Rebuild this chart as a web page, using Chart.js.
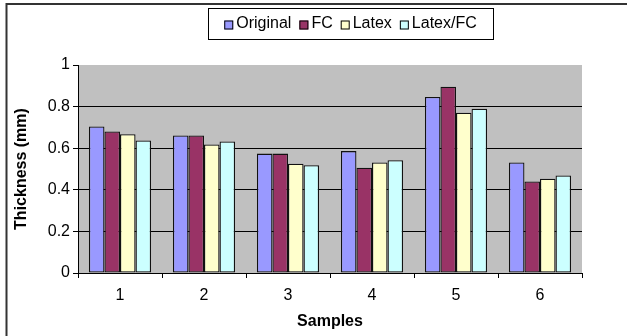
<!DOCTYPE html>
<html>
<head>
<meta charset="utf-8">
<script src="https://cdn.jsdelivr.net/npm/chart.js@4.4.1/dist/chart.umd.min.js"></script>
<style>
  html, body { margin: 0; padding: 0; background: #fff; }
  #wrap { width: 627px; height: 336px; position: relative; }
</style>
</head>
<body>
<div id="wrap"><canvas id="c" width="627" height="336"></canvas></div>
<script>
const categories = ['1', '2', '3', '4', '5', '6'];
const seriesNames = ['Original', 'FC', 'Latex', 'Latex/FC'];
const original = [0.704, 0.661, 0.574, 0.586, 0.846, 0.531];
const fc       = [0.680, 0.661, 0.574, 0.506, 0.896, 0.440];
const latex    = [0.667, 0.618, 0.525, 0.531, 0.771, 0.453];
const latexFc  = [0.637, 0.632, 0.518, 0.542, 0.790, 0.469];
const yTicks   = [0, 0.2, 0.4, 0.6, 0.8, 1];
const colors   = ['#9999FF', '#993366', '#FFFFCC', '#CCFFFF'];
const FONT = '"Liberation Sans", Arial, sans-serif';

const seriesValues = [original, fc, latex, latexFc];

const datasets = seriesNames.map((name, i) => ({
  label: name,
  data: seriesValues[i],
  backgroundColor: colors[i],
  borderColor: '#111',
  borderWidth: 1.3,
  borderSkipped: false,
  categoryPercentage: 0.74,
  barPercentage: 1.0
}));

const decorPlugin = {
  id: 'decor',
  beforeDraw(chart) {
    const { ctx, chartArea: a } = chart;
    ctx.save();
    ctx.fillStyle = '#fff';
    ctx.fillRect(0, 0, chart.width, chart.height);
    ctx.fillStyle = '#C0C0C0';
    ctx.fillRect(a.left, a.top, a.right - a.left, a.bottom - a.top);
    ctx.restore();
  },
  afterDraw(chart) {
    const { ctx } = chart;
    ctx.save();
    // outer frame (top + left)
    ctx.strokeStyle = '#333';
    ctx.lineWidth = 2;
    ctx.beginPath();
    ctx.moveTo(627, 4);
    ctx.lineTo(6.5, 4);
    ctx.lineTo(6.5, 336);
    ctx.stroke();

    // legend
    const fontSize = 16;
    ctx.font = fontSize + 'px ' + FONT;
    const sq = 9, gapSqText = 3, gapItem = 8;
    const ds = chart.data.datasets;
    const widths = ds.map(d => ctx.measureText(d.label).width);
    let total = 0;
    widths.forEach((w, i) => { total += sq + gapSqText + w + (i < ds.length - 1 ? gapItem : 0); });
    const boxL = 208, boxR = 493, boxT = 8, boxB = 39;
    const cy = (boxT + boxB) / 2;
    ctx.fillStyle = '#fff';
    ctx.fillRect(boxL, boxT, boxR - boxL, boxB - boxT);
    ctx.strokeStyle = '#000';
    ctx.lineWidth = 1;
    ctx.strokeRect(boxL + 0.5, boxT + 0.5, boxR - boxL, boxB - boxT);
    let x = (boxL + boxR) / 2 - total / 2;
    ds.forEach((d, i) => {
      ctx.fillStyle = d.backgroundColor;
      ctx.fillRect(x, cy - 3, sq, sq);
      ctx.strokeStyle = '#000';
      ctx.strokeRect(x + 0.5, cy - 2.5, sq - 1, sq - 1);
      x += sq + gapSqText;
      ctx.fillStyle = '#000';
      ctx.textBaseline = 'middle';
      ctx.textAlign = 'left';
      ctx.fillText(d.label, x, cy);
      x += widths[i] + gapItem;
    });
    ctx.restore();
  }
};

new Chart(document.getElementById('c'), {
  type: 'bar',
  data: { labels: categories, datasets },
  plugins: [decorPlugin],
  options: {
    responsive: false,
    animation: false,
    devicePixelRatio: 1,
    layout: { padding: { left: 0, right: 45, top: 65, bottom: 0 } },
    plugins: { legend: { display: false }, tooltip: { enabled: false } },
    scales: {
      x: {
        grid: { display: true, drawOnChartArea: false, drawTicks: true, tickLength: 5, color: '#000', offset: true },
        border: { display: true, color: '#000', width: 1 },
        ticks: { color: '#000', font: { family: FONT, size: 16 }, padding: 8, maxRotation: 0 },
        title: { display: true, text: 'Samples', color: '#000', font: { family: FONT, size: 16, weight: 'bold' }, padding: { top: 0, bottom: 5 } },
        afterFit(s) { s.height = 63; }
      },
      y: {
        min: 0, max: 1,
        afterBuildTicks(s) { s.ticks = yTicks.map(v => ({ value: v })); },
        grid: {
          color: ctx => (ctx.tick && ctx.tick.value === 1) ? 'rgba(0,0,0,0)' : '#000',
          tickColor: '#000', tickLength: 5, drawTicks: true
        },
        border: { display: true, color: '#000', width: 1 },
        ticks: { color: '#000', font: { family: FONT, size: 16 }, padding: 3, callback: v => String(v) },
        title: { display: true, text: 'Thickness (mm)', color: '#000', font: { family: FONT, size: 16, weight: 'bold' }, padding: { top: 12, bottom: 0 } },
        afterFit(s) { s.width = 78; }
      }
    }
  }
});
</script>
</body>
</html>
